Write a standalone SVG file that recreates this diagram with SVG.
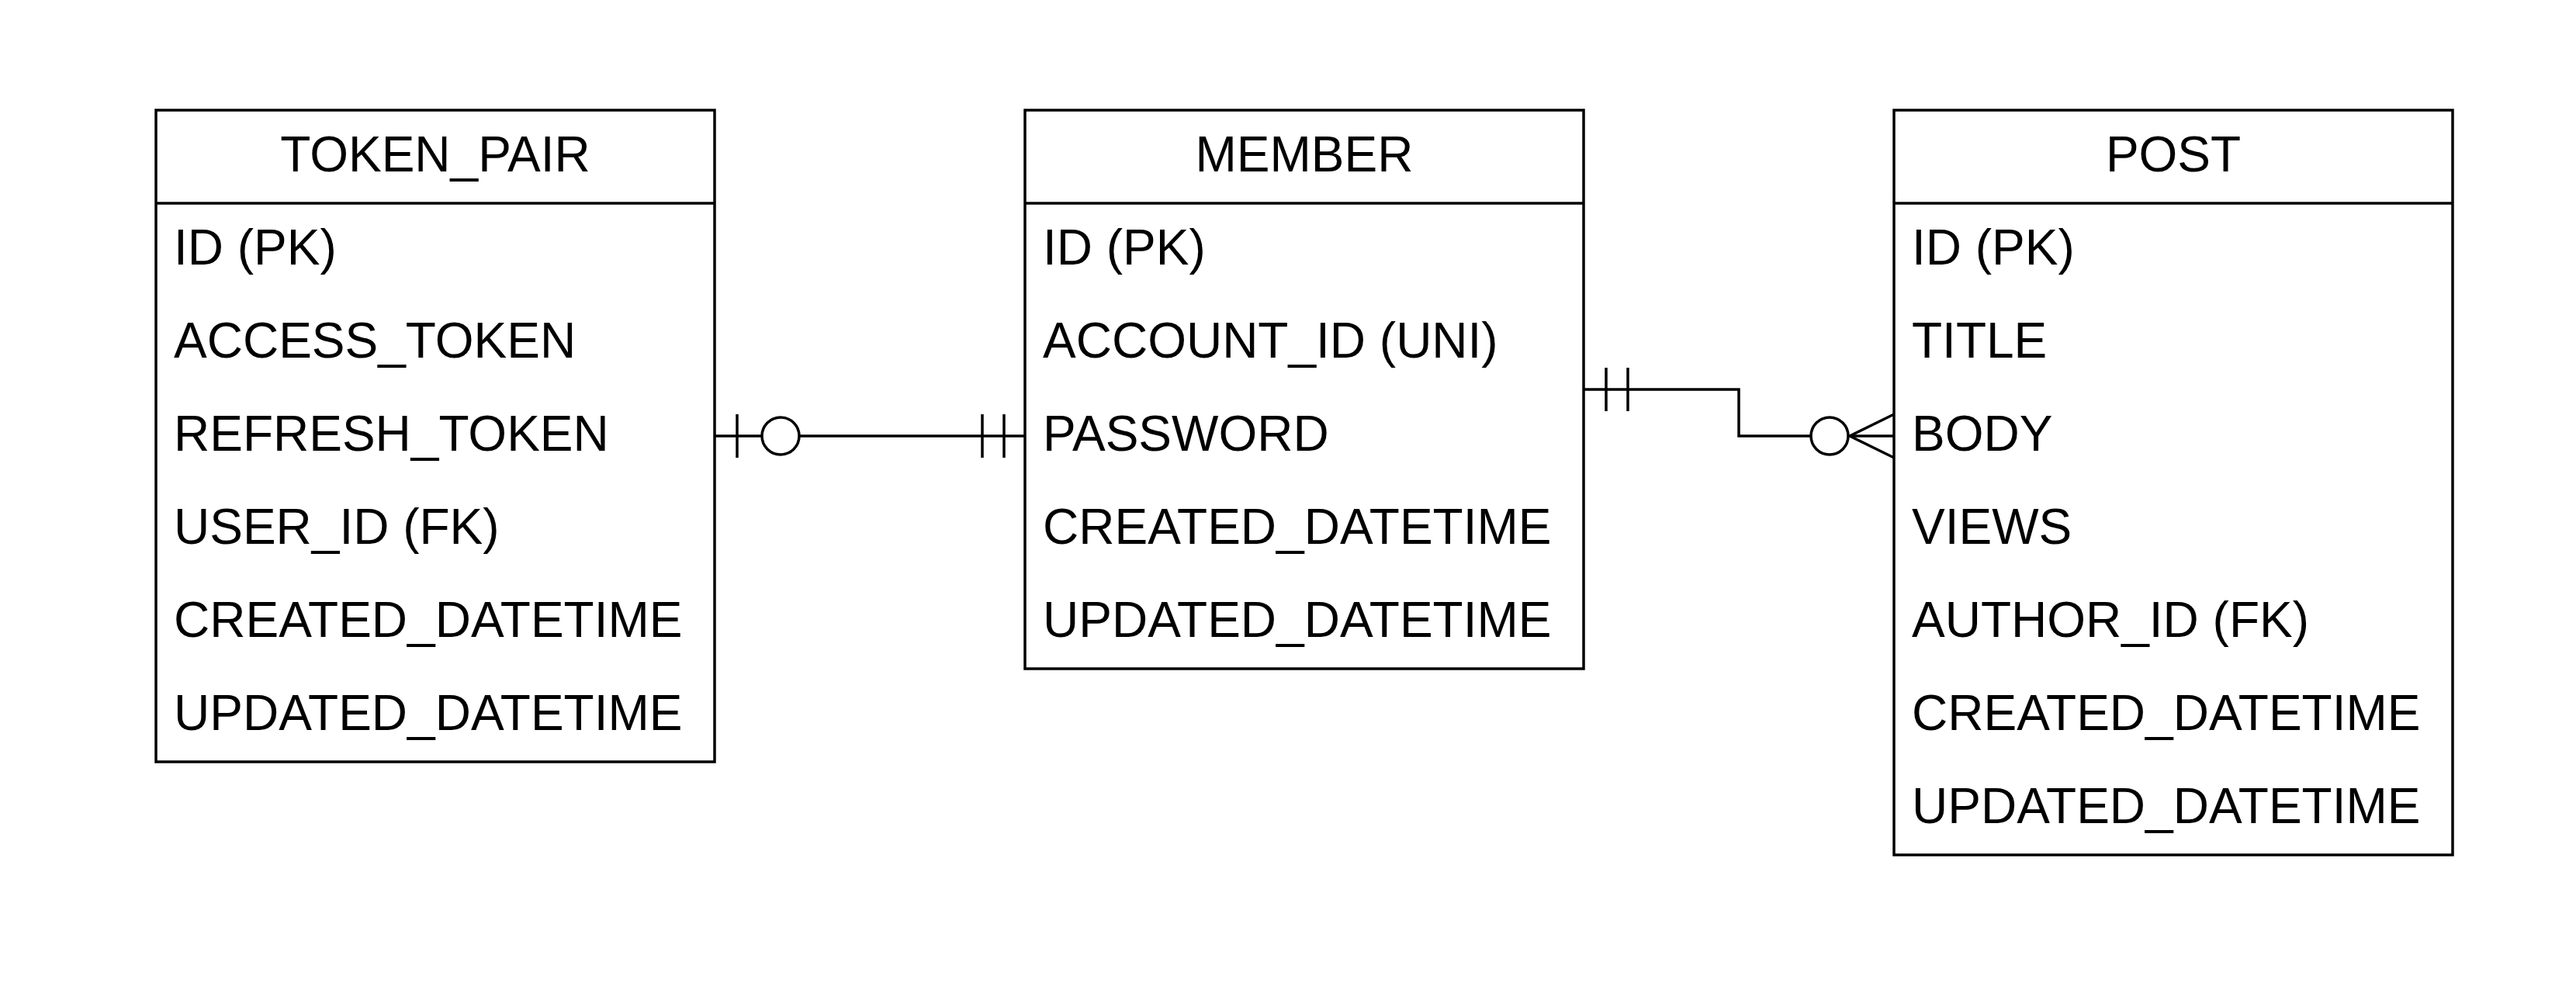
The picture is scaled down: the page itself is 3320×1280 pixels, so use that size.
<svg xmlns="http://www.w3.org/2000/svg" width="3320" height="1280" viewBox="0 0 3320 1280">
<style>
.box{fill:#fff;stroke:#000;stroke-width:3.5}
.ln{fill:none;stroke:#000;stroke-width:3.5}
.t{font-family:"Liberation Sans",Arial,sans-serif;font-size:64px;fill:#000}
.h{text-anchor:middle}
</style>
<rect width="3320" height="1280" fill="#fff"/>
<g id="token_pair">
<rect class="box" x="201" y="142" width="720" height="840"/>
<line class="ln" x1="201" y1="262" x2="921" y2="262"/>
<text class="t h" x="561" y="221">TOKEN_PAIR</text>
<text class="t" x="224" y="341">ID (PK)</text>
<text class="t" x="224" y="461">ACCESS_TOKEN</text>
<text class="t" x="224" y="581">REFRESH_TOKEN</text>
<text class="t" x="224" y="701">USER_ID (FK)</text>
<text class="t" x="224" y="821">CREATED_DATETIME</text>
<text class="t" x="224" y="941">UPDATED_DATETIME</text>
</g>
<g id="member">
<rect class="box" x="1321" y="142" width="720" height="720"/>
<line class="ln" x1="1321" y1="262" x2="2041" y2="262"/>
<text class="t h" x="1681" y="221">MEMBER</text>
<text class="t" x="1344" y="341">ID (PK)</text>
<text class="t" x="1344" y="461">ACCOUNT_ID (UNI)</text>
<text class="t" x="1344" y="581">PASSWORD</text>
<text class="t" x="1344" y="701">CREATED_DATETIME</text>
<text class="t" x="1344" y="821">UPDATED_DATETIME</text>
</g>
<g id="post">
<rect class="box" x="2441" y="142" width="720" height="960"/>
<line class="ln" x1="2441" y1="262" x2="3161" y2="262"/>
<text class="t h" x="2801" y="221">POST</text>
<text class="t" x="2464" y="341">ID (PK)</text>
<text class="t" x="2464" y="461">TITLE</text>
<text class="t" x="2464" y="581">BODY</text>
<text class="t" x="2464" y="701">VIEWS</text>
<text class="t" x="2464" y="821">AUTHOR_ID (FK)</text>
<text class="t" x="2464" y="941">CREATED_DATETIME</text>
<text class="t" x="2464" y="1061">UPDATED_DATETIME</text>
</g>
<g id="connectors">
<path class="ln" d="M921 562H982M1030 562H1321"/>
<line class="ln" x1="950" y1="534" x2="950" y2="590"/>
<circle class="ln" cx="1006" cy="562" r="24"/>
<line class="ln" x1="1266" y1="534" x2="1266" y2="590"/>
<line class="ln" x1="1294" y1="534" x2="1294" y2="590"/>
<path class="ln" d="M2041 502H2241V562H2334M2382 562H2441"/>
<line class="ln" x1="2070" y1="474" x2="2070" y2="530"/>
<line class="ln" x1="2098" y1="474" x2="2098" y2="530"/>
<circle class="ln" cx="2358" cy="562" r="24"/>
<path class="ln" d="M2441 534L2384 562L2441 590"/>
</g>
</svg>
